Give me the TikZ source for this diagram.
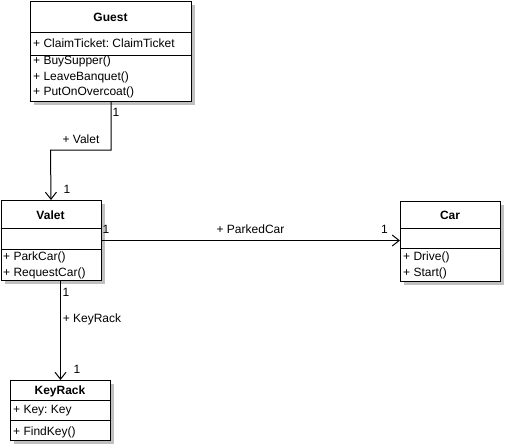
\documentclass[tikz,border=0pt]{standalone}
\usepackage{fontspec}
\setmainfont{Liberation Sans}
\usetikzlibrary{arrows.meta}
\frenchspacing
\definecolor{shadowgray}{RGB}{192,192,192}
\tikzset{
  cls/.style={draw, fill=white, line width=1pt, inner sep=0pt, anchor=north west},
  shadowbox/.style={fill=shadowgray, draw=none},
  divider/.style={line width=1pt},
  txt/.style={font=\fontsize{12}{14}\selectfont, inner sep=0pt, anchor=west},
  ttl/.style={font=\fontsize{12}{14}\selectfont\bfseries, inner sep=0pt},
  lbl/.style={font=\fontsize{12}{14}\selectfont, inner sep=0pt},
  assoc/.style={line width=1pt, -{Straight Barb[length=7pt,width=11pt,line width=1pt]}}
}
\begin{document}
\begin{tikzpicture}[x=1pt,y=-1pt]
\useasboundingbox (0,0) rectangle (505,445);
% ---- Guest
\fill[shadowbox] (34,4.5) rectangle (195,104.5);
\node[cls, minimum width=161pt, minimum height=100pt] (guest) at (30,0.5) {};
\draw[divider] (30,32.5) -- (191,32.5);
\draw[divider] (30,55.5) -- (191,55.5);
\node[ttl] (guestT) at (110.5,17) {Guest};
\node[txt] (guestA) at (33,43) {+ ClaimTicket: ClaimTicket};
\node[txt] (guestM1) at (33,61) {+ BuySupper()};
\node[txt] (guestM2) at (33,77) {+ LeaveBanquet()};
\node[txt] (guestM3) at (33,92) {+ PutOnOvercoat()};
% ---- Valet
\fill[shadowbox] (4.5,204) rectangle (104.5,284);
\node[cls, minimum width=100pt, minimum height=80pt] (valet) at (0.5,200) {};
\draw[divider] (0.5,228) -- (100.5,228);
\draw[divider] (0.5,249) -- (100.5,249);
\node[ttl] (valetT) at (50.5,215) {Valet};
\node[txt] (valetM1) at (3,257) {+ ParkCar()};
\node[txt] (valetM2) at (3,273) {+ RequestCar()};
% ---- Car
\fill[shadowbox] (404,205) rectangle (504,284.5);
\node[cls, minimum width=100pt, minimum height=79.5pt] (car) at (400,201) {};
\draw[divider] (400,228) -- (500,228);
\draw[divider] (400,248) -- (500,248);
\node[ttl] (carT) at (450,215) {Car};
\node[txt] (carM1) at (403,257) {+ Drive()};
\node[txt] (carM2) at (403,273) {+ Start()};
% ---- KeyRack
\fill[shadowbox] (14,384) rectangle (114,444);
\node[cls, minimum width=100pt, minimum height=60pt] (keyrack) at (10,380) {};
\draw[divider] (10,400.5) -- (110,400.5);
\draw[divider] (10,420.5) -- (110,420.5);
\node[ttl] (keyrackT) at (60,391) {KeyRack};
\node[txt] (keyrackA) at (13,411) {+ Key: Key};
\node[txt] (keyrackM1) at (13,432) {+ FindKey()};
% ---- connectors
\draw[assoc] (guest.south) |- (50.5,150) -- (valet.north);
\node[lbl] (m1) at (116,112) {1};
\node[lbl] (r1) at (81,139) {+ Valet};
\node[lbl] (m2) at (67,189) {1};
\draw[assoc] (valet.east) -- (car.west |- valet.east);
\node[lbl] (m3) at (106,229) {1};
\node[lbl] (r2) at (250.5,229) {+ ParkedCar};
\node[lbl] (m4) at (384.5,229) {1};
\draw[assoc] (keyrack.north |- valet.south) -- (keyrack.north);
\node[lbl] (m5) at (66,292) {1};
\node[lbl] (r3) at (92,319) {+ KeyRack};
\node[lbl] (m6) at (77,369) {1};
\end{tikzpicture}
\end{document}
